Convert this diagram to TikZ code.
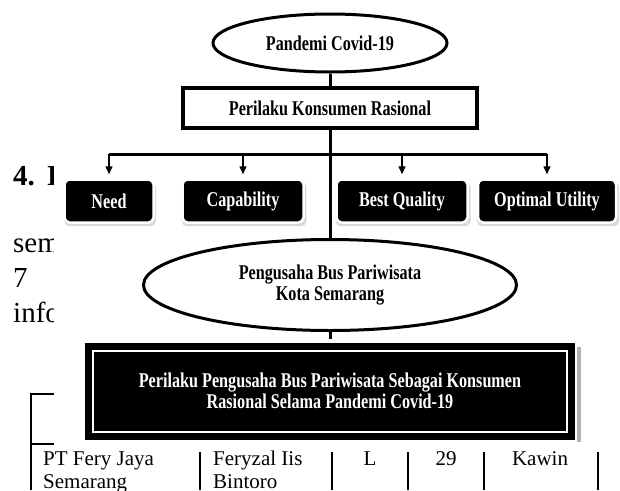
\documentclass[tikz,border=0pt]{standalone}
\usepackage{fontspec}
\setmainfont{Liberation Serif}
\newfontfamily\condfont[FakeStretch=0.77]{Liberation Serif}
\usetikzlibrary{arrows.meta,positioning,calc,shapes.geometric,shadows}

\tikzset{
  chart/.style={font=\condfont\bfseries\fontsize{21}{21}\selectfont,align=center,inner sep=0pt},
  oval/.style={chart,ellipse,draw,line width=3pt},
  headbox/.style={chart,rectangle,draw,line width=4pt},
  factor/.style={chart,rectangle,rounded corners=5pt,fill=black,text=white,draw=white,line width=2.5pt,
    minimum height=43pt,drop shadow={shadow xshift=1pt,shadow yshift=-3pt,shadow scale=1.03,fill=black!30}},
  resultbox/.style={chart,rectangle,fill=black,text=white,draw=black,double=white,double distance=2pt,line width=7pt},
  wire/.style={line width=3pt},
  tip/.style={line width=1.5pt,-{Triangle[length=8pt,width=7pt]},shorten >=4pt},
  body/.style={font=\fontsize{29}{29}\selectfont,anchor=base west,inner sep=0pt},
  cell/.style={font=\fontsize{21}{23}\selectfont,anchor=base,inner sep=0pt},
  rule/.style={line width=1.5pt}
}

\begin{document}
\begin{tikzpicture}[x=1pt,y=-1pt]
\useasboundingbox (0,0) rectangle (620,490);
% page text behind the figure
\node[body] (num) at (13,185) {\textbf{4.\hspace{12pt}I}};
\node[body] (sem) at (13,252) {sem};
\node[body] (seven) at (13,287) {7};
\node[body] (info) at (13,322) {info};
\draw[rule] (600,394) -| (31,490);
\draw[rule] (31,444) -- (600,444);
\fill[white] (54,0) rectangle (620,448);
% table row below
\foreach \x in {200,332,408,484,598}
  \draw[rule] (\x,452) -- (\x,490);
\node[cell,anchor=base west] (firm) at (43,465) {PT Fery Jaya};
\node[cell,anchor=base west] (city) at (43,488) {Semarang};
\node[cell,anchor=base west] (owner) at (213,465) {Feryzal Iis};
\node[cell,anchor=base west] (surname) at (213,488) {Bintoro};
\node[cell] (sex) at (370,465) {L};
\node[cell] (age) at (446,465) {29};
\node[cell] (status) at (540,465) {Kawin};

% the figure
\fill[black!30] (577,347) rectangle (581,442);
\node[oval,minimum width=234pt,minimum height=58pt] (pandemi) at (330,43) {Pandemi Covid-19};
\node[headbox,minimum width=294pt,minimum height=40pt] (konsumen) at (330,108) {Perilaku Konsumen Rasional};
\node[factor,minimum width=89pt] (need) at (109,201) {Need};
\node[factor,minimum width=121pt] (capability) at (243,201) {Capability};
\node[factor,minimum width=131pt] (quality) at (402,201) {Best Quality};
\node[factor,minimum width=138pt] (utility) at (547,201) {Optimal Utility};
\node[oval,minimum width=373pt,minimum height=91pt] (pengusaha) at (330,285) {Pengusaha Bus Pariwisata\\Kota Semarang};
\node[resultbox,minimum width=474pt,minimum height=81pt] (perilaku) at (330,391)
  {Perilaku Pengusaha Bus Pariwisata Sebagai Konsumen\\Rasional Selama Pandemi Covid-19};

\coordinate (bar) at (330,154);
\draw[wire] (pandemi) -- (konsumen);
\draw[wire] (konsumen) -- (pengusaha);
\draw[wire] (need |- bar) -- (utility |- bar);
\foreach \f in {need,capability,quality,utility}
  \draw[tip] (\f |- bar) -- (\f);
\draw[wire,shorten >=8pt] (pengusaha) -- (perilaku);
\end{tikzpicture}
\end{document}
